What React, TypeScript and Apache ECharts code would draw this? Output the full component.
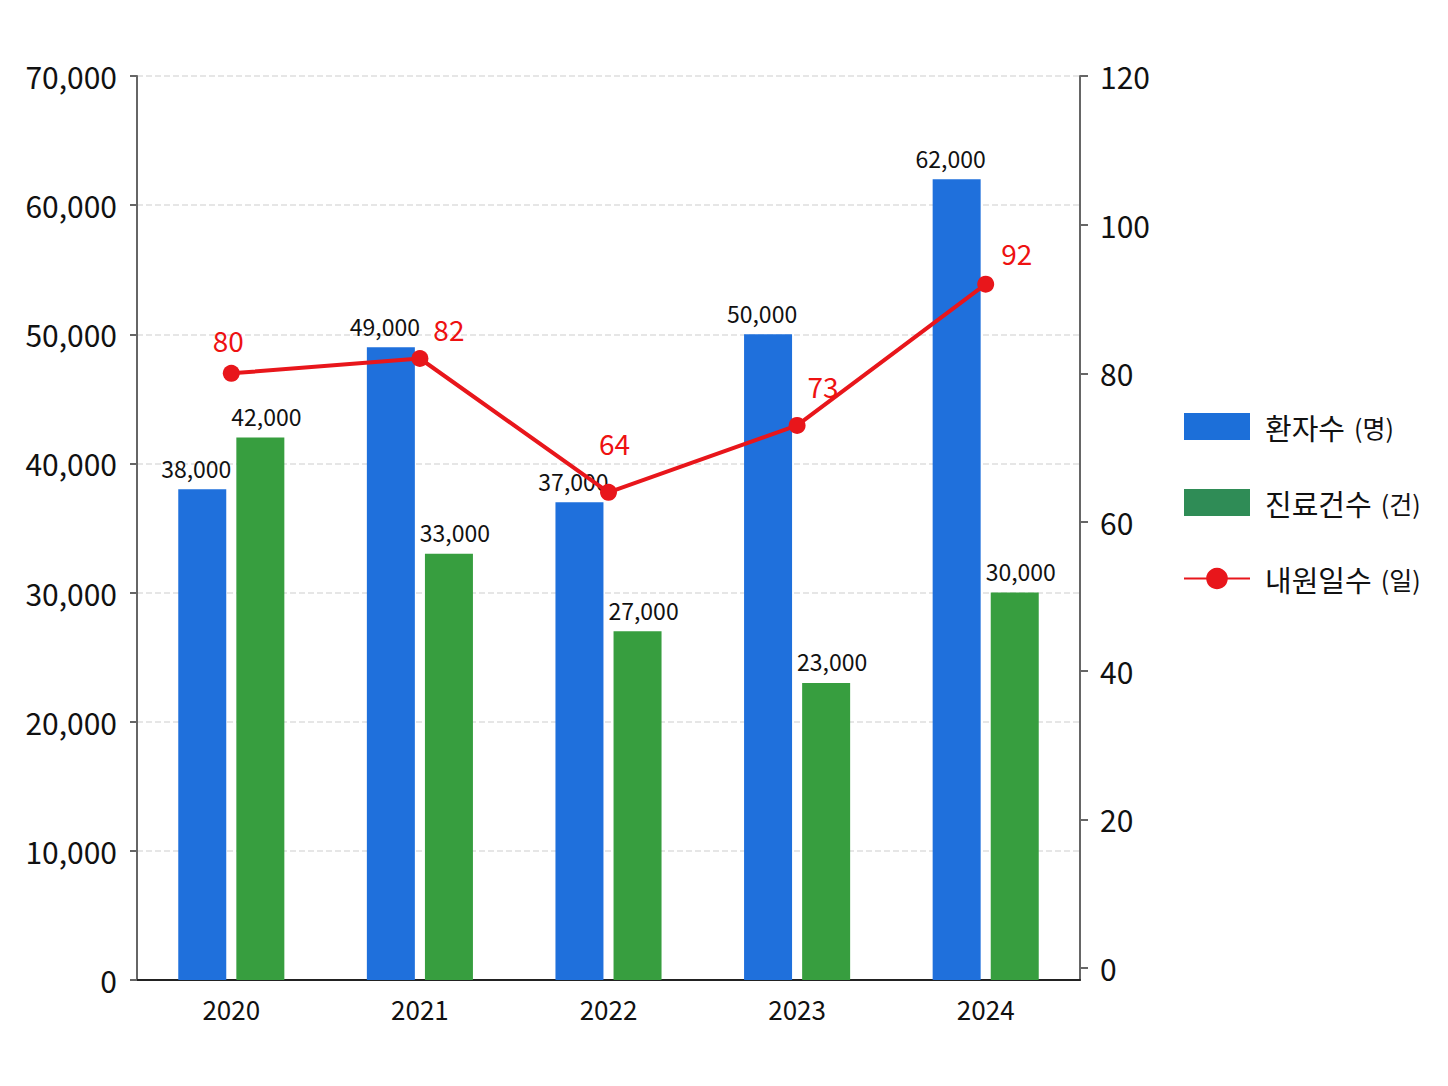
import React, { useEffect, useRef } from "react";
import * as echarts from "echarts";

const years = ["2020", "2021", "2022", "2023", "2024"];
const patients = [38000, 49000, 37000, 50000, 62000];
const treatments = [42000, 33000, 27000, 23000, 30000];
const visitDays = [80, 82, 64, 73, 92];
const rightTicks = [0, 20, 40, 60, 80, 100, 120];

const seriesNames = ["환자수 (명)", "진료건수 (건)", "내원일수 (일)"];

// where each red label sits relative to its point
const lineLabelOffsets = [
  [-3, -6],
  [29, -2],
  [6, -22],
  [26, -12],
  [31, -4],
];

const FONT = "'Noto Sans CJK KR', 'Noto Sans', sans-serif";

const App = () => {
  const chartRef = useRef<HTMLDivElement>(null);

  useEffect(() => {
    if (!chartRef.current) return;
    document.body.style.margin = "0";

    const chart = echarts.init(chartRef.current, null, { renderer: "svg" });

    const fmt = (v: number) => v.toLocaleString("en-US");

    const options = {
      animation: false,
      backgroundColor: "#ffffff",
      textStyle: { fontFamily: FONT },
      grid: { left: 137, right: 368, top: 76, bottom: 106 },
      legend: {
        orient: "vertical",
        left: 1183,
        top: 412,
        padding: 0,
        itemWidth: 66,
        itemHeight: 27,
        itemGap: 47,
        data: [
          { name: seriesNames[0], icon: "rect", itemStyle: { color: "#1c6fd9" } },
          { name: seriesNames[1], icon: "rect", itemStyle: { color: "#2f8c56" } },
          { name: seriesNames[2] },
        ],
        formatter: (name: string) => {
          const i = name.indexOf(" (");
          return `{a|${name.slice(0, i)}}{b|${name.slice(i + 1)}}`;
        },
        textStyle: {
          padding: [0, 0, 0, 10],
          rich: {
            a: { fontFamily: FONT, fontSize: 29, color: "#111", fontWeight: "normal" },
            b: { fontFamily: FONT, fontSize: 25, color: "#111", padding: [0, 0, 0, 9] },
          },
        },
      },
      xAxis: {
        type: "category",
        data: years,
        axisLine: { lineStyle: { color: "#222", width: 2 } },
        axisTick: { show: false },
        axisLabel: { fontSize: 26, color: "#111", margin: 15, fontFamily: FONT },
      },
      yAxis: [
        {
          type: "value",
          min: 0,
          max: 70000,
          interval: 10000,
          axisLine: { show: true, lineStyle: { color: "#666", width: 2 } },
          axisTick: { show: true, length: 7, lineStyle: { color: "#666", width: 2 } },
          axisLabel: {
            fontSize: 30,
            color: "#111",
            margin: 20,
            fontFamily: FONT,
            formatter: (v: number) => fmt(v),
          },
          splitLine: { lineStyle: { color: "#dedede", type: "dashed", width: 1.5 } },
        },
        {
          type: "value",
          min: -1.6,
          max: 120,
          axisLine: { show: true, lineStyle: { color: "#666", width: 2 } },
          axisTick: {
            show: true,
            length: 8,
            customValues: rightTicks,
            lineStyle: { color: "#666", width: 2 },
          },
          axisLabel: {
            fontSize: 30,
            color: "#111",
            margin: 20,
            fontFamily: FONT,
            customValues: rightTicks,
          },
          splitLine: { show: false },
        },
      ],
      series: [
        {
          name: seriesNames[0],
          type: "bar",
          data: patients,
          barWidth: 48,
          barGap: "21%",
          itemStyle: { color: "#1f70dc" },
          label: {
            show: true,
            position: "top",
            distance: 10,
            offset: [-6, 0],
            fontSize: 23,
            color: "#111",
            fontFamily: FONT,
            formatter: (p: any) => fmt(p.value),
          },
        },
        {
          name: seriesNames[1],
          type: "bar",
          data: treatments,
          barWidth: 48,
          itemStyle: { color: "#379e3f" },
          label: {
            show: true,
            position: "top",
            distance: 10,
            offset: [6, 0],
            fontSize: 23,
            color: "#111",
            fontFamily: FONT,
            formatter: (p: any) => fmt(p.value),
          },
        },
        {
          name: seriesNames[2],
          type: "line",
          yAxisIndex: 1,
          data: visitDays.map((v, i) => ({
            value: v,
            label: { offset: lineLabelOffsets[i] },
          })),
          symbol: "circle",
          symbolSize: 17,
          lineStyle: { color: "#e8161b", width: 4 },
          itemStyle: { color: "#e8161b" },
          label: {
            show: true,
            position: "top",
            fontSize: 28,
            color: "#ee1111",
            fontFamily: FONT,
          },
          z: 5,
        },
      ],
    };

    chart.setOption(options);

    const handleResize = () => chart.resize();
    window.addEventListener("resize", handleResize);

    return () => {
      window.removeEventListener("resize", handleResize);
      chart.dispose();
    };
  }, []);

  return <div ref={chartRef} style={{ width: "1448px", height: "1086px" }} />;
};

export default App;
